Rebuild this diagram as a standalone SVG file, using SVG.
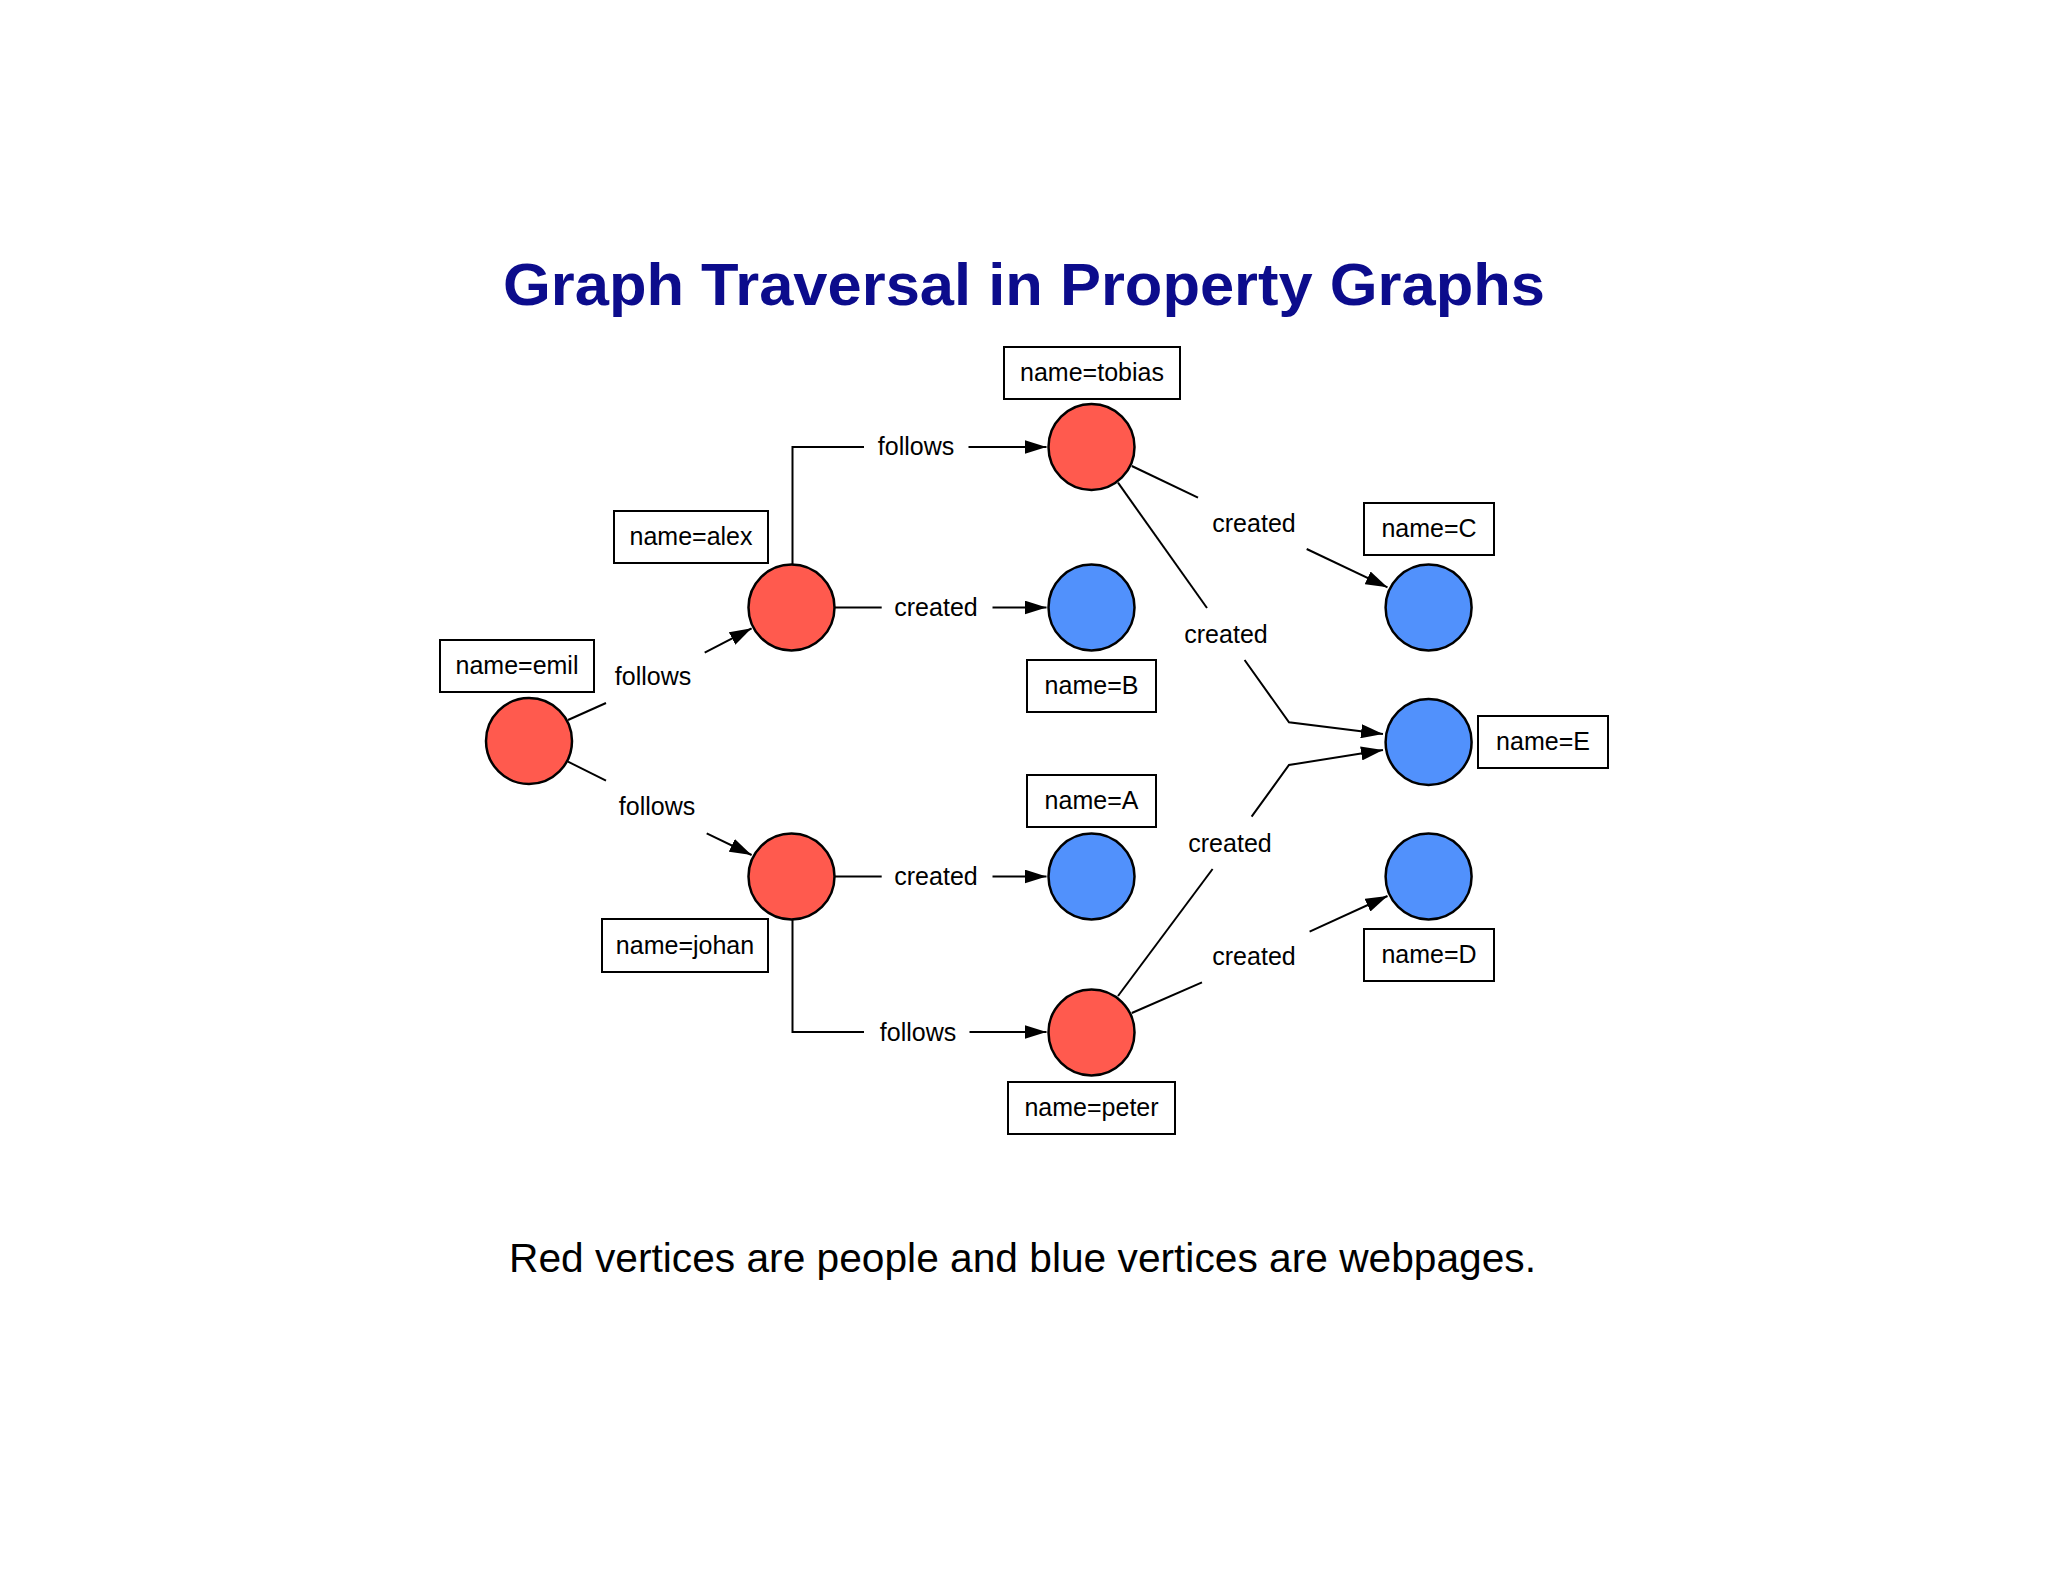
<svg xmlns="http://www.w3.org/2000/svg" width="2048" height="1582" viewBox="0 0 2048 1582">
<defs>
<style>
.t{font-family:"Liberation Sans",Arial,sans-serif;font-size:25px;fill:#000;text-anchor:middle}
.person{fill:#ff5a4e;stroke:#000;stroke-width:2.5}
.page{fill:#5191fc;stroke:#000;stroke-width:2.5}
.box{fill:#fff;stroke:#000;stroke-width:2}
.e{fill:none;stroke:#000;stroke-width:2}
.a{fill:none;stroke:#000;stroke-width:2;marker-end:url(#arr)}
</style>
<marker id="arr" markerUnits="userSpaceOnUse" markerWidth="22" markerHeight="14" refX="22" refY="7" orient="auto">
<path d="M0,0 L22,7 L0,14 z" fill="#000"/>
</marker>
</defs>
<rect width="2048" height="1582" fill="#fff"/>
<text x="1024" y="305" font-family="'Liberation Sans',Arial,sans-serif" font-weight="bold" font-size="60" fill="#0c0c8c" text-anchor="middle" textLength="1042" lengthAdjust="spacingAndGlyphs">Graph Traversal in Property Graphs</text>

<g id="connectors">
<line class="e" x1="568" y1="720" x2="606" y2="703"/>
<line class="a" x1="704.7" y1="652.7" x2="751.6" y2="628.3"/>
<text class="t" x="653" y="685">follows</text>
<line class="e" x1="568" y1="761.7" x2="606" y2="780.7"/>
<line class="a" x1="706.7" y1="833.3" x2="751.6" y2="855"/>
<text class="t" x="657" y="815">follows</text>
<polyline class="e" points="792.5,564 792.5,447 864,447"/>
<line class="a" x1="968.5" y1="447" x2="1046.5" y2="447"/>
<text class="t" x="916" y="455">follows</text>
<line class="e" x1="834" y1="607.5" x2="881.7" y2="607.5"/>
<line class="a" x1="992.5" y1="607.5" x2="1046.5" y2="607.5"/>
<text class="t" x="936" y="616">created</text>
<line class="e" x1="834" y1="876.5" x2="881.7" y2="876.5"/>
<line class="a" x1="992.5" y1="876.5" x2="1046.5" y2="876.5"/>
<text class="t" x="936" y="885">created</text>
<polyline class="e" points="792.5,920 792.5,1032 864,1032"/>
<line class="a" x1="969.5" y1="1032" x2="1046.5" y2="1032"/>
<text class="t" x="918" y="1041">follows</text>
<line class="e" x1="1131.8" y1="466" x2="1198" y2="497.7"/>
<line class="a" x1="1306.7" y1="549" x2="1387.5" y2="587.3"/>
<text class="t" x="1254" y="532">created</text>
<line class="e" x1="1118" y1="482.7" x2="1207" y2="608"/>
<polyline class="a" points="1244.6,660 1289,722.3 1383,734"/>
<text class="t" x="1226" y="643">created</text>
<line class="e" x1="1118" y1="996" x2="1212.6" y2="869"/>
<polyline class="a" points="1251.6,816.7 1289,765 1383,750"/>
<text class="t" x="1230" y="852">created</text>
<line class="e" x1="1131.8" y1="1013" x2="1202" y2="982.3"/>
<line class="a" x1="1309.6" y1="931.7" x2="1387.5" y2="896"/>
<text class="t" x="1254" y="965">created</text>
</g>

<g id="emil">
<circle class="person" cx="529" cy="741" r="43"/>
<rect class="box" x="440" y="640" width="154" height="52"/>
<text class="t" x="517" y="674">name=emil</text>
</g>
<g id="alex">
<circle class="person" cx="791.5" cy="607.5" r="43"/>
<rect class="box" x="614" y="511" width="154" height="52"/>
<text class="t" x="691" y="545">name=alex</text>
</g>
<g id="johan">
<circle class="person" cx="791.5" cy="876.5" r="43"/>
<rect class="box" x="602" y="919" width="166" height="53"/>
<text class="t" x="685" y="954">name=johan</text>
</g>
<g id="tobias">
<circle class="person" cx="1091.5" cy="447" r="43"/>
<rect class="box" x="1004" y="347" width="176" height="52"/>
<text class="t" x="1092" y="381">name=tobias</text>
</g>
<g id="peter">
<circle class="person" cx="1091.5" cy="1032.5" r="43"/>
<rect class="box" x="1008" y="1082" width="167" height="52"/>
<text class="t" x="1091.5" y="1116">name=peter</text>
</g>
<g id="B">
<circle class="page" cx="1091.5" cy="607.5" r="43"/>
<rect class="box" x="1027" y="660" width="129" height="52"/>
<text class="t" x="1091.5" y="694">name=B</text>
</g>
<g id="A">
<circle class="page" cx="1091.5" cy="876.5" r="43"/>
<rect class="box" x="1027" y="775" width="129" height="52"/>
<text class="t" x="1091.5" y="809">name=A</text>
</g>
<g id="C">
<circle class="page" cx="1428.6" cy="607.5" r="43"/>
<rect class="box" x="1364" y="503" width="130" height="52"/>
<text class="t" x="1429" y="537">name=C</text>
</g>
<g id="E">
<circle class="page" cx="1428.6" cy="742" r="43"/>
<rect class="box" x="1478" y="716" width="130" height="52"/>
<text class="t" x="1543" y="750">name=E</text>
</g>
<g id="D">
<circle class="page" cx="1428.6" cy="876.5" r="43"/>
<rect class="box" x="1364" y="929" width="130" height="52"/>
<text class="t" x="1429" y="963">name=D</text>
</g>

<text x="1022.5" y="1272" font-family="'Liberation Sans',Arial,sans-serif" font-size="40" fill="#000" text-anchor="middle" textLength="1027" lengthAdjust="spacingAndGlyphs">Red vertices are people and blue vertices are webpages.</text>
</svg>
